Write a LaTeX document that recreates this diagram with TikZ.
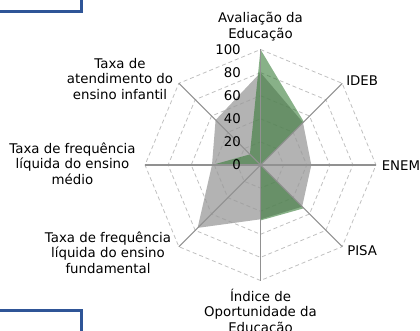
\documentclass[tikz,border=0pt]{standalone}
\usepackage{fontspec}
\setmainfont{DejaVu Sans}
\definecolor{boxblue}{RGB}{47,85,151}
\definecolor{gridgray}{RGB}{192,192,192}
\definecolor{axisgray}{RGB}{145,145,145}
\definecolor{grayser}{RGB}{153,153,153}
\definecolor{greenser}{RGB}{50,120,50}
\begin{document}
\begin{tikzpicture}[x=0.75pt,y=-0.75pt,
  lbl/.style={font=\fontsize{10pt}{11.6pt}\selectfont, inner sep=0pt, align=center, text=black},
  tick/.style={font=\fontsize{10pt}{11.6pt}\selectfont, inner sep=0pt, anchor=east, text=black},
  gridline/.style={draw=gridgray, dash pattern=on 3pt off 2.2pt, line width=0.6pt},
  axisline/.style={draw=axisgray, line width=0.8pt},
  grayfill/.style={fill=grayser, fill opacity=0.75},
  greenfill/.style={fill=greenser, fill opacity=0.58},
  boxline/.style={draw=boxblue, line width=2.2pt}
]
\def\k{1.155}
\useasboundingbox (0,0) rectangle (420,331);
\clip (0,0) rectangle (420,331);
\draw[boxline] (-10,-10) rectangle (81.5,11.5);
\draw[boxline] (-10,310.5) rectangle (81.5,345);
\begin{scope}[shift={(260.5,165)}]
  \coordinate (O) at (0,0);
  \foreach \r in {20,40,60,80,100}
    \draw[gridline] (-90:{\r*\k}) -- (-45:{\r*\k}) -- (0:{\r*\k}) -- (45:{\r*\k}) -- (90:{\r*\k}) -- (135:{\r*\k}) -- (180:{\r*\k}) -- (225:{\r*\k}) -- cycle;
  \fill[grayfill] (-90:{80*\k}) -- (-45:{52*\k}) -- (0:{44*\k}) -- (45:{51*\k}) -- (90:{47*\k}) -- (135:{77*\k}) -- (180:{42*\k}) -- (225:{55*\k}) -- cycle;
  \fill[greenfill] (-90:{100*\k}) -- (-45:{53*\k}) -- (0:0) -- (45:{53*\k}) -- (90:{48*\k}) -- (135:0) -- (180:{42*\k}) -- (225:{13*\k}) -- cycle;
  \foreach \a/\n in {-90/aT,-45/aI,0/aE,45/aP,90/aB,135/aF,180/aM,225/aN}{
    \coordinate (\n) at (\a:{100*\k});
    \draw[axisline] (O) -- (\n);
  }
\end{scope}
\foreach \v in {0,20,40,60,80,100}
  \node[tick] (t\v) at (241,{165-\v*\k}) {\v};
\node[lbl] (lAval) at (260.5,26.7) {Avaliação da\\Educação};
\node[lbl, anchor=west] (lIDEB) at (346,81) {IDEB};
\node[lbl, anchor=west] (lENEM) at (381.5,166) {ENEM};
\node[lbl, anchor=west] (lPISA) at (347,250.5) {PISA};
\node[lbl] (lIndice) at (260.5,312) {Índice de\\Oportunidade da\\Educação};
\node[lbl] (lFund) at (108,252.5) {Taxa de frequência\\líquida do ensino\\fundamental};
\node[lbl] (lMedio) at (72.5,163.5) {Taxa de frequência\\líquida do ensino\\médio};
\node[lbl] (lInf) at (120,78.7) {Taxa de\\atendimento do\\ensino infantil};
\end{tikzpicture}
\end{document}
